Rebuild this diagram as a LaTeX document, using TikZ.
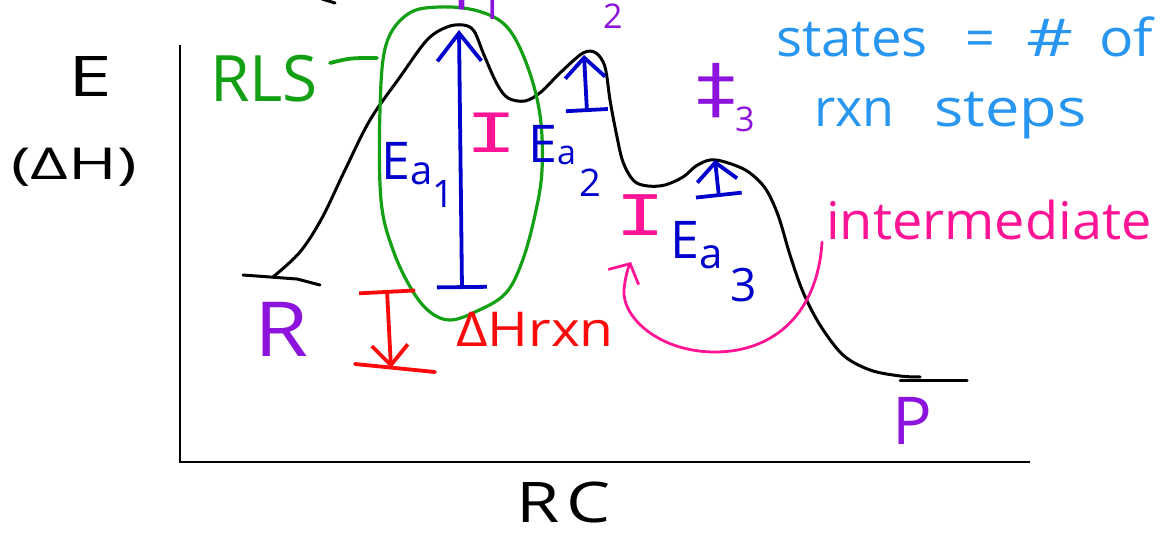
\documentclass[tikz,border=0pt]{standalone}
\usepackage{fontspec}
\usepackage{graphicx}
\usetikzlibrary{arrows.meta}
\newfontfamily\hand{Open Sans}
\newfontfamily\handmono{Liberation Mono}
\newfontfamily\symf{DejaVu Sans}
\newcommand{\fsz}[1]{\fontsize{#1}{#1}\selectfont}
\definecolor{myblue}{RGB}{0,0,205}
\definecolor{mypink}{RGB}{255,20,150}
\definecolor{myred}{RGB}{250,10,10}
\definecolor{mygreen}{RGB}{20,160,20}
\definecolor{mypurple}{RGB}{140,20,220}
\definecolor{mylight}{RGB}{40,150,240}
\tikzset{
  pen/.style={line width=3.8pt, line cap=round, line join=round},
  curve/.style={black, line width=3pt, line cap=round, line join=round},
  lbl/.style={inner sep=0pt, font=\hand},
}
\begin{document}
\begin{tikzpicture}[x=1pt,y=-1pt]
\useasboundingbox (0,0) rectangle (1165,534);
\clip (0,0) rectangle (1165,534);
\fill[white] (0,0) rectangle (1165,534);

% axes
\coordinate (yt) at (180,45);
\coordinate (o) at (180,462);
\coordinate (xr) at (1030,462);
\draw[line width=2.4pt] (yt) -- (o) -- (xr);

% axis labels
\node[lbl, anchor=base] (E) at (90,97) {\fsz{56}\scalebox{1.4}[1]{E}};
\node[lbl, anchor=base] (dH) at (74,180) {\fsz{44}\scalebox{1.5}[1]{(ΔH)}};
\node[lbl, anchor=base west] (RC) at (516,522) {\fsz{56}\scalebox{1.25}[1]{R\hspace{6pt}C}};

% energy curve
\draw[curve] (243,275) -- (297,279) -- (320,285);
\draw[curve] plot[smooth, tension=0.55] coordinates {
 (273,277) (300,252) (322,218) (345,170) (370,120) (400,77) (427,40) (447,27)
 (463,25) (474,31) (484,55) (497,84) (508,98) (525,101) (541,92) (560,73)
 (583,53) (596,53) (605,67) (610,100) (616,132) (623,162) (634,181) (648,186)
 (665,185) (683,177) (696,166) (710,160) (725,162) (747,171) (765,188) (778,215)
 (790,255) (803,292) (820,325) (843,355) (870,370) (900,376) (920,377)};
\draw[curve] (900,381) -- (967,381);
\draw[curve] (322,-1) -- (335,3);

% R and P
\node[lbl, text=mypurple, anchor=base west] (R) at (254,357) {\fsz{76}\scalebox{1.15}[1]{R}};
\node[lbl, text=mypurple, anchor=base west] (P) at (892,445) {\fsz{66}P};

% RLS loop
\node[lbl, text=mygreen, anchor=base west] (rls) at (210,102) {\fsz{64}RLS};
\coordinate (rlsa) at (330,63);
\coordinate (rlsb) at (377,58);
\draw[pen, mygreen] (rlsa) .. controls (350,58) .. (rlsb);
\draw[mygreen, line width=3.2pt] plot[smooth cycle, tension=0.6] coordinates {
 (380,110) (386,45) (408,14) (440,7) (478,11) (507,27) (527,65) (540,115)
 (542,170) (535,215) (522,262) (505,294) (475,312) (450,320) (430,312)
 (412,290) (393,250) (381,200)};

% activation energy arrows
\coordinate (ea1b) at (462,289);
\coordinate (ea1t) at (459,30);
\draw[pen, myblue, {Bar[width=50pt,line width=3.8pt]}-{Straight Barb[length=28pt,width=44pt,line width=3.8pt]}] (ea1b) -- (ea1t);
\coordinate (ea2b) at (587,112);
\coordinate (ea2t) at (584,55);
\draw[pen, myblue, {Bar[width=42pt,line width=3.8pt]}-{Straight Barb[length=20pt,width=40pt,line width=3.8pt]}] (ea2b) -- (ea2t);
\coordinate (ea3b) at (719,197);
\coordinate (ea3t) at (715,160);
\draw[pen, myblue, {Bar[width=46pt,line width=3.8pt]}-{Straight Barb[length=18pt,width=40pt,line width=3.8pt]}] (ea3b) -- (ea3t);

\node[lbl, text=myblue, anchor=base west] (Ea1) at (381,180)
  {\fsz{52}E\raisebox{-5pt}{\fsz{40}a}\raisebox{-28pt}{\fsz{38}1}};
\node[lbl, text=myblue, anchor=base west] (Ea2) at (528,163)
  {\fsz{52}E\raisebox{-2pt}{\fsz{34}a}\hspace{3pt}\raisebox{-34pt}{\fsz{38}2}};
\node[lbl, text=myblue, anchor=base west] (Ea3) at (670,259)
  {\fsz{52}E\raisebox{-10pt}{\fsz{42}a}\hspace{8pt}\raisebox{-43pt}{\fsz{46}3}};

% transition states
\node[lbl, text=mypurple, font=\symf, anchor=base] (ts3) at (716,112) {\fsz{66}\scalebox{1.2}[1]{‡}};
\node[lbl, text=mypurple, anchor=base west] (ts3n) at (735,132) {\fsz{34}3};
\node[lbl, text=mypurple, font=\symf, anchor=base] (ts1) at (462,4) {\fsz{66}‡};
\node[lbl, text=mypurple, anchor=base west] (ts1n) at (478,20) {\fsz{46}1};
\node[lbl, text=mypurple, font=\symf, anchor=base] (ts2) at (584,-6) {\fsz{66}‡};
\node[lbl, text=mypurple, anchor=base west] (ts2n) at (603,29) {\fsz{34}2};

% intermediates
\node[lbl, text=mypink, font=\handmono] (I1) at (492,133) {\fsz{60}\scalebox{1.45}[1]{I}};
\node[lbl, text=mypink, font=\handmono] (I2) at (641,215) {\fsz{62}\scalebox{1.35}[1]{I}};

% Delta H rxn
\coordinate (dht) at (387,290);
\coordinate (dhb) at (391,368);
\draw[pen, myred, {Bar[width=56pt,line width=3.8pt]}-{Straight Barb[length=20pt,width=36pt,line width=3.8pt]}] (dht) -- (dhb);
\coordinate (pla) at (355,364);
\coordinate (plb) at (435,372);
\draw[pen, myred] (pla) -- (plb);
\node[lbl, text=myred, anchor=base west] (dHrxn) at (456,347) {\fsz{48}\scalebox{1.15}[1]{ΔHrxn}};

% intermediate label and arrow
\node[lbl, text=mypink, anchor=base west] (inter) at (826,240) {\fsz{52}\scalebox{1.04}[1]{intermediate}};
\coordinate (ia) at (822,242);
\coordinate (ib) at (631,262);
\draw[mypink, line width=2.8pt, line cap=round, -{Straight Barb[length=15pt,width=34pt,line width=2.8pt]}]
  (ia) .. controls (818,312) and (775,352) .. (715,352)
       .. controls (660,352) and (622,318) .. (624,290)
       .. controls (625,278) and (628,268) .. (ib);

% note
\node[lbl, text=mylight, anchor=base west] (n1a) at (776,57) {\fsz{52}\scalebox{1.05}[1]{states}};
\node[lbl, text=mylight, anchor=base west] (n1b) at (965,57) {\fsz{52}=};
\node[lbl, text=mylight, anchor=base west] (n1c) at (1026,57) {\fsz{52}\scalebox{1.4}[1]{\#}};
\node[lbl, text=mylight, anchor=base west] (n1d) at (1099,57) {\fsz{52}\scalebox{1.1}[1]{of}};
\node[lbl, text=mylight, anchor=base west] (n2a) at (814,127) {\fsz{52}rxn};
\node[lbl, text=mylight, anchor=base west] (n2b) at (934,127) {\fsz{52}\scalebox{1.18}[1]{steps}};
\end{tikzpicture}
\end{document}
